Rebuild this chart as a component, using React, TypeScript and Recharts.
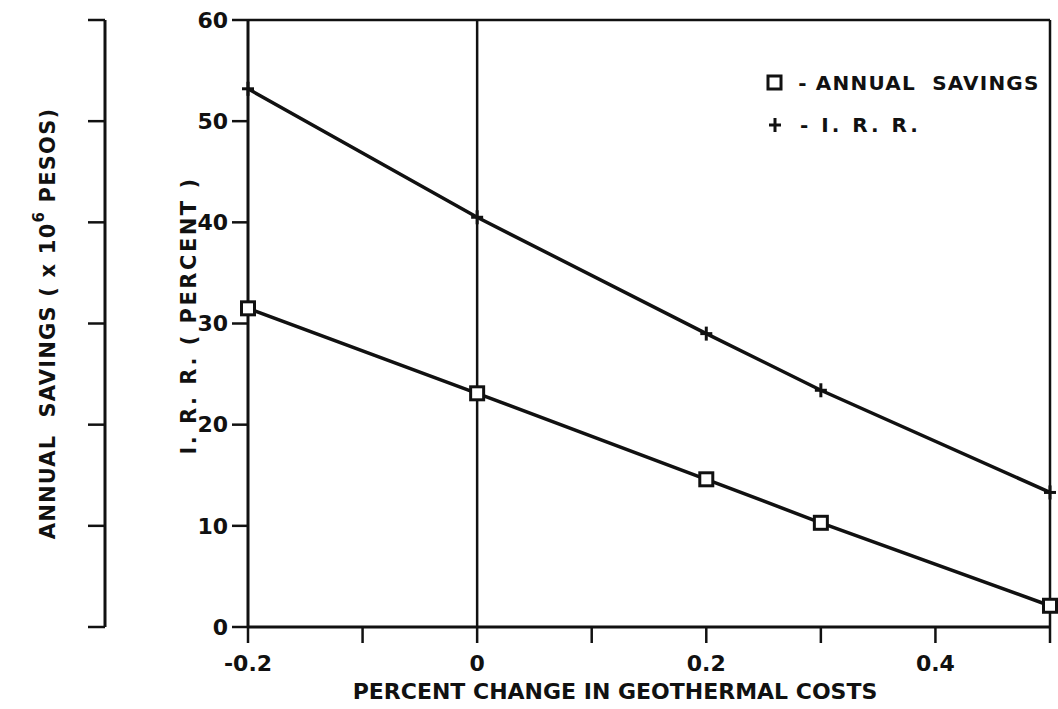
import { Label, Legend, Line, LineChart, ReferenceLine, XAxis, YAxis } from "recharts";

const changes = [-0.2, 0, 0.2, 0.3, 0.5];
const annualSavings = [31.5, 23.1, 14.6, 10.3, 2.1];
const irrPercent = [53.2, 40.5, 29.0, 23.4, 13.3];

const xTicks = [-0.2, -0.1, 0, 0.1, 0.2, 0.3, 0.4, 0.5];
const xTickLabels: Record<string, string> = { "-0.2": "-0.2", "0": "0", "0.2": "0.2", "0.4": "0.4" };
const yTicks = [0, 10, 20, 30, 40, 50, 60];

const data = changes.map((x, i) => ({ x, savings: annualSavings[i], irr: irrPercent[i] }));

const INK = "#111";
const FONT = "'DejaVu Sans', sans-serif";

function SquareDot(props: any) {
  const { cx, cy } = props;
  if (cx == null || cy == null) return null;
  return <rect x={cx - 6.5} y={cy - 6.5} width={13} height={13} fill="#fff" stroke={INK} strokeWidth={3} />;
}

function PlusDot(props: any) {
  const { cx, cy } = props;
  if (cx == null || cy == null) return null;
  return (
    <g stroke={INK} strokeWidth={3}>
      <line x1={cx - 6} y1={cy} x2={cx + 6} y2={cy} />
      <line x1={cx} y1={cy - 7} x2={cx} y2={cy + 7} />
    </g>
  );
}

function LegendBox() {
  const row = { display: "flex", alignItems: "center", height: 42 } as const;
  const text = { fontFamily: FONT, fontWeight: 700, fontSize: 20, color: INK, letterSpacing: 1.2 } as const;
  return (
    <div>
      <div style={row}>
        <svg width={32} height={20}>
          <rect x={10} y={3} width={13} height={13} fill="#fff" stroke={INK} strokeWidth={3} />
        </svg>
        <span style={text}>&nbsp;-&nbsp;ANNUAL&nbsp;&nbsp;SAVINGS</span>
      </div>
      <div style={row}>
        <svg width={32} height={20}>
          <g stroke={INK} strokeWidth={3}>
            <line x1={11} y1={10} x2={23} y2={10} />
            <line x1={17} y1={3} x2={17} y2={17} />
          </g>
        </svg>
        <span style={{ ...text, letterSpacing: 3 }}>&nbsp;-&nbsp;I.&nbsp;R.&nbsp;R.</span>
      </div>
    </div>
  );
}

function XTick(props: any) {
  const { x, y, payload } = props;
  const label = xTickLabels[String(Math.round(payload.value * 10) / 10)] ?? "";
  return (
    <text x={x} y={y + 26} textAnchor="middle" fontFamily={FONT} fontWeight={700} fontSize={22} fill={INK}>
      {label}
    </text>
  );
}

function SavingsLabel(props: any) {
  const vb = props.viewBox;
  const cx = vb.x + 48;
  const cy = vb.y + vb.height / 2;
  return (
    <text
      x={cx}
      y={cy}
      transform={`rotate(-90 ${cx} ${cy})`}
      textAnchor="middle"
      dominantBaseline="central"
      fontFamily={FONT}
      fontWeight={700}
      fontSize={21}
      letterSpacing={1.2}
      fill={INK}
    >
      ANNUAL&nbsp;&nbsp;SAVINGS ( x 10
      <tspan dy={-9} fontSize={15}>6</tspan>
      <tspan dy={9}>&nbsp;PESOS)</tspan>
    </text>
  );
}

function IrrLabel(props: any) {
  const vb = props.viewBox;
  const cx = vb.x + 84;
  const cy = vb.y + vb.height / 2 - 8;
  return (
    <text
      x={cx}
      y={cy}
      transform={`rotate(-90 ${cx} ${cy})`}
      textAnchor="middle"
      dominantBaseline="central"
      fontFamily={FONT}
      fontWeight={700}
      fontSize={21}
      letterSpacing={2.5}
      fill={INK}
    >
      I. R. R. ( PERCENT )
    </text>
  );
}

export default function App() {
  return (
    <div style={{ width: 1058, height: 709, background: "#fff" }}>
      <style>{`body{margin:0;background:#fff}`}</style>
      <LineChart width={1058} height={709} data={data} margin={{ top: 20, right: 8, left: 0, bottom: 0 }}>
        <XAxis
          dataKey="x"
          type="number"
          domain={[-0.2, 0.5]}
          ticks={xTicks}
          tick={<XTick />}
          tickSize={16}
          height={82}
          axisLine={{ stroke: INK, strokeWidth: 3 }}
          tickLine={{ stroke: INK, strokeWidth: 2.5 }}
        >
          <Label
            value="PERCENT CHANGE IN GEOTHERMAL COSTS"
            position="insideBottom"
            offset={10}
            dx={-34}
            fontFamily={FONT}
            fontWeight={700}
            fontSize={22}
            fill={INK}
          />
        </XAxis>
        <YAxis
          yAxisId="irr"
          type="number"
          domain={[0, 60]}
          ticks={yTicks}
          width={143}
          tickSize={16}
          tickMargin={4}
          axisLine={{ stroke: INK, strokeWidth: 3 }}
          tickLine={{ stroke: INK, strokeWidth: 2.5 }}
          tick={{ fontFamily: FONT, fontWeight: 700, fontSize: 22, fill: INK }}
        >
          <Label content={<IrrLabel />} />
        </YAxis>
        <YAxis
          yAxisId="savings"
          type="number"
          domain={[0, 60]}
          ticks={yTicks}
          width={105}
          tickSize={17}
          tickFormatter={() => ""}
          axisLine={{ stroke: INK, strokeWidth: 3 }}
          tickLine={{ stroke: INK, strokeWidth: 2.5 }}
        >
          <Label content={<SavingsLabel />} />
        </YAxis>
        <ReferenceLine yAxisId="irr" x={0} stroke={INK} strokeWidth={2.5} />
        <ReferenceLine yAxisId="irr" x={0.5} stroke={INK} strokeWidth={2.5} />
        <ReferenceLine yAxisId="irr" y={60} stroke={INK} strokeWidth={2.5} />
        <Legend
          layout="horizontal"
          verticalAlign="middle"
          align="center"
          content={<LegendBox />}
          wrapperStyle={{ top: 62, left: 758, width: 300 }}
        />
        <Line
          yAxisId="savings"
          dataKey="savings"
          name="ANNUAL SAVINGS"
          stroke={INK}
          strokeWidth={3.5}
          dot={<SquareDot />}
          isAnimationActive={false}
        />
        <Line
          yAxisId="irr"
          dataKey="irr"
          name="I.R.R."
          stroke={INK}
          strokeWidth={3.5}
          dot={<PlusDot />}
          isAnimationActive={false}
        />
      </LineChart>
    </div>
  );
}
